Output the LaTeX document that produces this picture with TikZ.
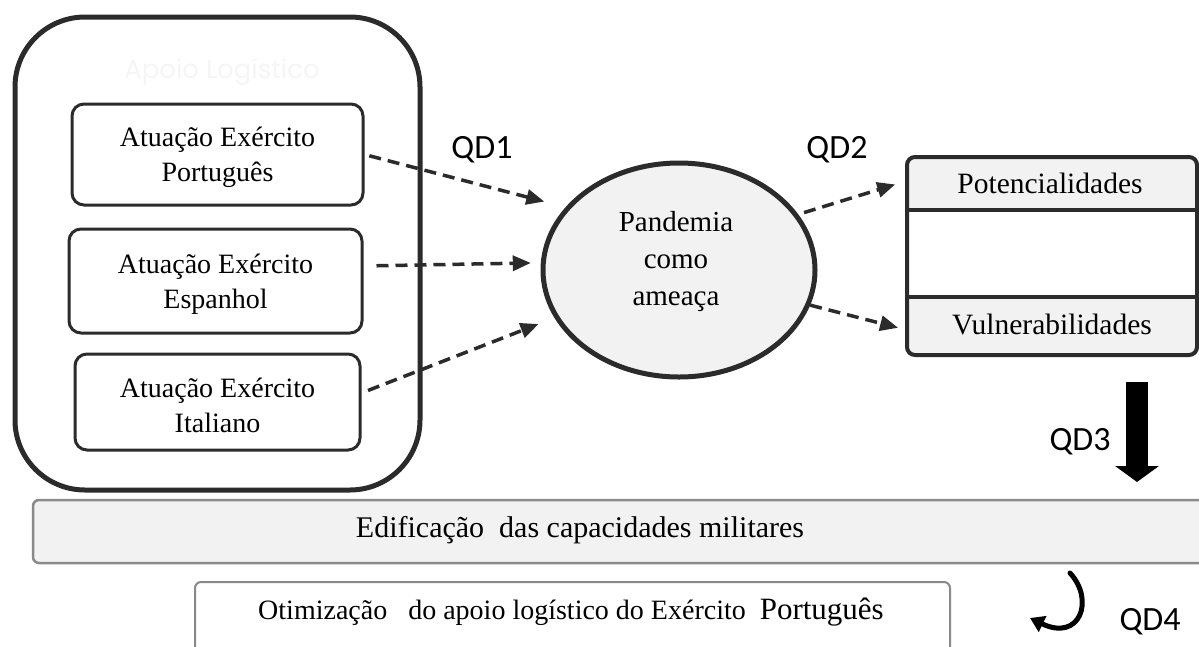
\documentclass[tikz,border=0pt]{standalone}
\usepackage{fontspec}
\setmainfont{Liberation Serif}
\newfontfamily\qdfont{Carlito}
\newfontfamily\faintfont{Poppins}
\usetikzlibrary{arrows.meta,shapes.geometric}
\definecolor{ln}{HTML}{2B2B2B}
\definecolor{fl}{HTML}{F2F2F2}
\definecolor{faint}{HTML}{F5F5F5}
\definecolor{bar}{HTML}{8A8A8A}
\begin{document}
\begin{tikzpicture}[x=1pt,y=-1pt,
  txt/.style={font=\fontsize{28}{35}\selectfont, align=center, inner sep=0pt},
  abox/.style={draw=ln, line width=3pt, rounded corners=12pt, inner sep=0pt},
  dasharrow/.style={draw=ln, line width=3.5pt, dash pattern=on 12pt off 7pt,
    -{Triangle[length=18pt,width=15pt]}},
  qd/.style={font=\qdfont\fontsize{34}{40}\selectfont, inner sep=0pt}]
\useasboundingbox (0,0) rectangle (1199,646);
\clip (0,0) rectangle (1199,646);

% outer container
\node[draw=ln, line width=5pt, rounded corners=70pt, minimum width=405pt,
  minimum height=473pt, inner sep=0pt] (apoio) at (217.5,253.5) {};
\node[font=\faintfont\fontsize{26}{30}\selectfont, text=faint, inner sep=0pt]
  (ttl) at (222,72) {Apoio Logístico};

% inner boxes
\node[abox, minimum width=291pt, minimum height=101pt] (b1) at (217.5,154.5) {};
\node[txt] (b1t) at (217.5,157) {Atuação Exército\\Português};
\node[abox, minimum width=293pt, minimum height=104pt] (b2) at (215.5,281) {};
\node[txt] (b2t) at (215.5,284) {Atuação Exército\\Espanhol};
\node[abox, minimum width=285pt, minimum height=96pt] (b3) at (217.5,402) {};
\node[txt] (b3t) at (217.5,405) {Atuação Exército\\Italiano};

% ellipse
\node[ellipse, draw=ln, line width=5pt, fill=fl, minimum width=272pt,
  minimum height=214pt, inner sep=0pt] (pan) at (679,270) {};
\node[font=\fontsize{29}{37}\selectfont, align=center, inner sep=0pt] (pant)
  at (676,262) {Pandemia\\como\\ameaça};

% right box
\begin{scope}
  \clip[rounded corners=8pt] (907,157) rectangle (1197,355);
  \fill[fl] (907,157) rectangle (1197,210);
  \fill[fl] (907,297) rectangle (1197,355);
\end{scope}
\node[minimum width=290pt, minimum height=53pt, inner sep=0pt,
  font=\fontsize{29.5}{35}\selectfont] (pot) at (1050,183.5) {Potencialidades};
\node[minimum width=290pt, minimum height=58pt, inner sep=0pt,
  font=\fontsize{29.5}{35}\selectfont] (vul) at (1052,324) {Vulnerabilidades};
\draw[ln, line width=4pt] (907,210) -- (1197,210);
\draw[ln, line width=4pt] (907,297) -- (1197,297);
\node[draw=ln, line width=4pt, rounded corners=8pt, minimum width=290pt,
  minimum height=198pt, inner sep=0pt] (rbox) at (1052,256) {};

% bottom bars
\node[draw=bar, line width=2.5pt, fill=fl, rounded corners=6pt,
  minimum width=1180pt, minimum height=63pt, inner sep=0pt] (edif) at (623,531.5) {};
\node[font=\fontsize{30}{32}\selectfont, inner sep=0pt] (edift) at (580,530)
  {Edificação\ \ das capacidades militares};
\node[draw=bar, line width=2pt, rounded corners=6pt, minimum width=755pt,
  minimum height=80pt, inner sep=0pt] (otim) at (572.5,622) {};
\node[font=\fontsize{28}{32}\selectfont, inner sep=0pt] (otimt) at (571,612)
  {Otimização\ \ \ do apoio logístico do Exército\ \ {\fontsize{31}{32}\selectfont Português}};

% dashed arrows into the ellipse
\draw[dasharrow, shorten <=5pt, shorten >=22pt] (b1.east) -- (pan.151);
\draw[dasharrow, shorten <=13pt, shorten >=10pt] ([yshift=15pt]b2.east) -- (pan.177);
\draw[dasharrow, shorten <=7pt, shorten >=17pt] ([yshift=9pt]b3.east) -- (pan.201);

% dashed arrows out of the ellipse
\draw[dasharrow, shorten <=6pt, shorten >=10pt] (pan.25) -- ([yshift=2pt]pot.west);
\draw[dasharrow, shorten >=9pt] (pan.-15) -- ([yshift=-6pt]vul.west);

% QD3 thick arrow
\coordinate (q3s) at (1137,382);
\coordinate (q3e) at (1137,482);
\draw[black, line width=22pt, -{Triangle[length=16pt,width=43pt]}] (q3s) -- (q3e);

% QD4 curved arrow
\coordinate (q4s) at (1070,573);
\coordinate (q4e) at (1030,618);
\draw[black, line width=5pt, line cap=round, -{Triangle[length=14pt,width=17pt]}]
  (q4s) .. controls (1095,600) and (1080,642) .. (q4e);

% labels
\node[qd] (qd1) at (482,150) {QD1};
\node[qd] (qd2) at (837,150) {QD2};
\node[qd] (qd3) at (1080,442) {QD3};
\node[qd] (qd4) at (1150,622) {QD4};
\end{tikzpicture}
\end{document}
